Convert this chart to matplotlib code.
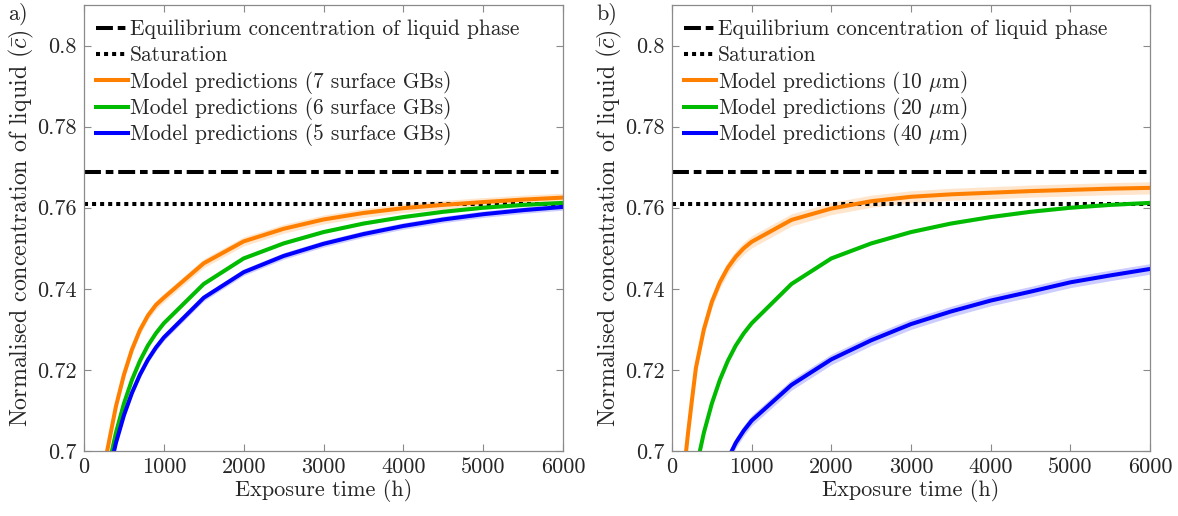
import matplotlib
matplotlib.use("Agg")
import matplotlib.pyplot as plt
from matplotlib.ticker import FixedLocator, FixedFormatter

plt.rcParams['font.family'] = 'serif'
plt.rcParams['font.serif'] = ['cmr10']
plt.rcParams['mathtext.fontset'] = 'cm'
plt.rcParams['axes.formatter.use_mathtext'] = True
plt.rcParams['axes.unicode_minus'] = False

# exposure time (h)
t = [150, 200, 250, 300, 400, 500, 600, 700, 800, 900, 1000,
     1500, 2000, 2500, 3000, 3500, 4000, 4500, 5000, 5500, 6000]

# panel a) number of surface grain boundaries
gb7 = [0.683, 0.690, 0.6960, 0.7010, 0.7110, 0.7188, 0.7250, 0.7298, 0.7334, 0.7360, 0.7378,
       0.7463, 0.7517, 0.7548, 0.7571, 0.7587, 0.7599, 0.7607, 0.7614, 0.7620, 0.7625]
gb6 = [0.670, 0.678, 0.6865, 0.6955, 0.7045, 0.7117, 0.7175, 0.7222, 0.7260, 0.7290, 0.7315,
       0.7412, 0.7475, 0.7512, 0.7540, 0.7561, 0.7577, 0.7590, 0.7600, 0.7607, 0.7612]
gb5 = [0.665, 0.675, 0.6850, 0.6935, 0.7020, 0.7088, 0.7143, 0.7188, 0.7225, 0.7255, 0.7280,
       0.7378, 0.7441, 0.7481, 0.7511, 0.7535, 0.7555, 0.7571, 0.7584, 0.7594, 0.7602]

# panel b) grain size
um10 = [0.6950, 0.7042, 0.7125, 0.7205, 0.7300, 0.7368, 0.7416, 0.7452, 0.7479, 0.7500, 0.7516,
        0.7570, 0.7598, 0.7616, 0.7627, 0.7633, 0.7637, 0.7641, 0.7644, 0.7647, 0.7649]
um20 = gb6
um40 = [0.640, 0.650, 0.658, 0.665, 0.676, 0.685, 0.6925, 0.6980, 0.7020, 0.7050, 0.7075,
        0.7163, 0.7226, 0.7273, 0.7313, 0.7344, 0.7371, 0.7393, 0.7416, 0.7433, 0.7449]

# half-width of the shaded uncertainty bands
spread_a = [0.0011, 0.0004, 0.0008]
spread_b = [0.0015, 0.0004, 0.0013]

c_eq = 0.7687     # equilibrium concentration of liquid phase
c_sat = 0.7609    # saturation

labels_a = ["Model predictions (7 surface GBs)",
            "Model predictions (6 surface GBs)",
            "Model predictions (5 surface GBs)"]
labels_b = [r"Model predictions (10 $\mu$m)",
            r"Model predictions (20 $\mu$m)",
            r"Model predictions (40 $\mu$m)"]

yticks = [0.7, 0.72, 0.74, 0.76, 0.78, 0.8]
yticklabels = ["0.7", "0.72", "0.74", "0.76", "0.78", "0.8"]
xticks = [0, 1000, 2000, 3000, 4000, 5000, 6000]

colors = ['#ff8000', '#00bb00', '#0000ff']
spine_col = '#8a8a8a'
text_col = '#262626'

eq_style = dict(color='k', lw=2.9, dashes=(4.2, 1.2, 1.9, 1.2), dash_capstyle='butt')
sat_style = dict(color='k', lw=2.9, dashes=(1, 1), dash_capstyle='butt')

fig = plt.figure(figsize=(11.78, 5.16), dpi=100)
ax_a = fig.add_axes([84/1178, 1-451/516, (563-84)/1178, 446/516])
ax_b = fig.add_axes([672/1178, 1-451/516, (1150-672)/1178, 446/516])


def key(ax, styles, labels):
    # legend drawn row by row so that rows with math text keep the same spacing
    w, h = 479.0, 446.0
    for i, (st, lab) in enumerate(zip(styles, labels)):
        yc = 1 - (23 + 26.2 * i) / h
        ax.plot([12 / w, 44 / w], [yc, yc], transform=ax.transAxes,
                clip_on=False, **st)
        ax.text(46 / w, yc - 7.2 / h, lab, transform=ax.transAxes, fontsize=15.4,
                color=text_col, ha='left', va='baseline')


def panel(ax, series, spreads, labels):
    ax.axhline(c_eq, **eq_style)
    ax.axhline(c_sat, **sat_style)
    for y, s, col in zip(series, spreads, colors):
        lo = [v - s for v in y]
        hi = [v + s for v in y]
        ax.fill_between(t, lo, hi, color=col, alpha=0.2, lw=0)
        ax.plot(t, y, color=col, lw=2.9)
    ax.set_xlim(0, 6000)
    ax.set_ylim(0.7, 0.81)
    ax.yaxis.set_major_locator(FixedLocator(yticks))
    ax.yaxis.set_major_formatter(FixedFormatter(yticklabels))
    ax.set_xticks(xticks)
    ax.set_xticklabels([str(x) for x in xticks])
    ax.tick_params(direction='in', length=5, width=0.8, color=spine_col,
                   labelcolor=text_col, labelsize=16, top=True, right=True, pad=5)
    for sp in ax.spines.values():
        sp.set_color(spine_col)
        sp.set_linewidth(0.9)
    ax.set_xlabel("Exposure time (h)", fontsize=16, color=text_col, labelpad=1)
    ax.set_ylabel(r"Normalised concentration of liquid ($\bar{c}$)", fontsize=17.2,
                  color=text_col, labelpad=1)
    styles = [eq_style, sat_style] + [dict(color=c, lw=2.9) for c in colors]
    key(ax, styles, ["Equilibrium concentration of liquid phase", "Saturation"] + labels)


panel(ax_a, [gb7, gb6, gb5], spread_a, labels_a)
panel(ax_b, [um10, um20, um40], spread_b, labels_b)

fig.text(8/1178, 1-14/516, "a)", fontsize=16, color=text_col, va='center')
fig.text(596/1178, 1-14/516, "b)", fontsize=16, color=text_col, va='center')

fig.savefig("out.png", dpi=100)
